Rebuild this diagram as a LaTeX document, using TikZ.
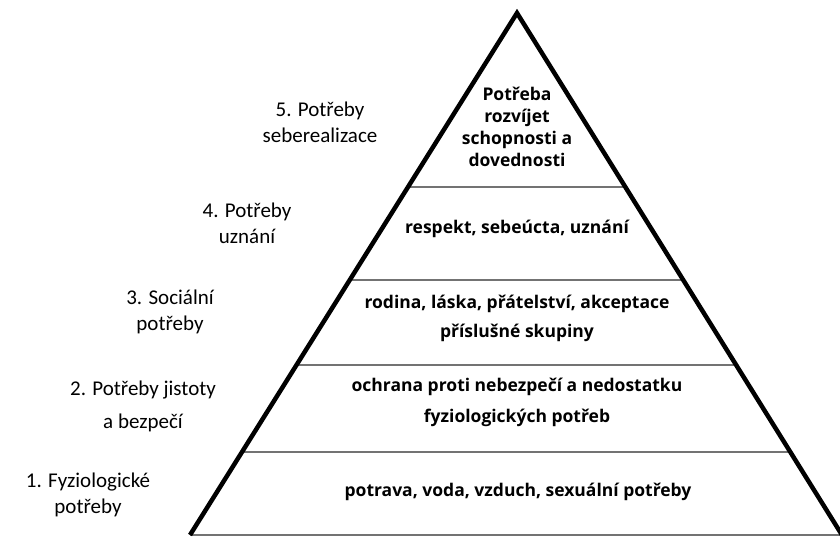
\documentclass[tikz,border=0pt]{standalone}
\usepackage{fontspec}
\setmainfont{Carlito}
\newfontfamily\pyrfont{Open Sans}
\usetikzlibrary{positioning, calc}

\begin{document}
\begin{tikzpicture}[
  x=1pt, y=-1pt,
  side/.style  = {line width=4.5pt, line join=miter},
  layer/.style = {draw=black!55, line width=1.4pt},
  level/.style = {font=\fontsize{21}{26}\selectfont, align=center, inner sep=0pt},
  need/.style  = {font=\pyrfont\bfseries\fontsize{17.5}{29}\selectfont, align=center, inner sep=0pt},
]
  \useasboundingbox (0,0) rectangle (840,536);

  \coordinate (apex) at (517,13);
  \coordinate (bl)   at (190,535);
  \coordinate (br)   at (842,535);

  % layer borders
  \foreach \t/\n in {0.3333/a, 0.5115/b, 0.674/c, 0.841/d} {
    \coordinate (l\n) at ($(apex)!\t!(bl)$);
    \coordinate (r\n) at ($(apex)!\t!(br)$);
    \draw[layer] (l\n) -- (r\n);
  }
  \draw[layer] (bl) -- (br);
  \draw[side] (bl) -- (apex) -- (br);

  % contents of the layers
  \node[need, font=\pyrfont\bfseries\fontsize{17.5}{22}\selectfont] (needfive) at (517,127)
    {Potřeba\\rozvíjet\\schopnosti a\\dovednosti};
  \node[need] (needfour)  at (517,229) {respekt, sebeúcta, uznání};
  \node[need] (needthree) at (517,318) {rodina, láska, přátelství, akceptace\\příslušné skupiny};
  \node[need, font=\pyrfont\bfseries\fontsize{17.5}{31}\selectfont] (needtwo) at (517,402)
    {ochrana proti nebezpečí a nedostatku\\fyziologických potřeb};
  \node[need] (needone)   at (518,492) {potrava, voda, vzduch, sexuální potřeby};

  % levels
  \node[level] (lvlfive)  at (320,122) {5. Potřeby\\seberealizace};
  \node[level] (lvlfour)  at (247,223) {4. Potřeby\\uznání};
  \node[level] (lvlthree) at (170,312) {3. Sociální\\potřeby};
  \node[level, font=\fontsize{21}{33}\selectfont] (lvltwo) at (143,406) {2. Potřeby jistoty\\a bezpečí};
  \node[level] (lvlone)   at (88,495)  {1. Fyziologické\\potřeby};
\end{tikzpicture}
\end{document}
